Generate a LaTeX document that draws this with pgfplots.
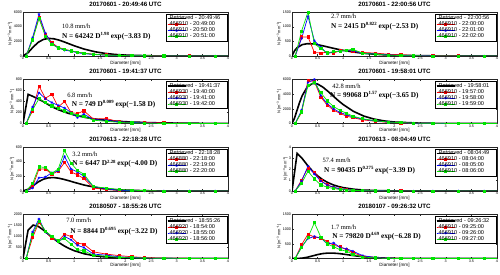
\documentclass[border=0pt]{standalone}
\usepackage{pgfplots}
\pgfplotsset{compat=1.18}
\usepackage{pgfplotstable}
\usepgfplotslibrary{groupplots}
\usepackage{fontspec}
\setmainfont{Liberation Sans}
\newfontfamily\serifnum{Liberation Serif}
\definecolor{mred}{rgb}{1,0,0}
\definecolor{mblue}{rgb}{0,0,1}
\definecolor{mgreen}{rgb}{0,0.9,0}
\newcommand\sups[1]{\raisebox{0.4em}{\fontsize{4.8}{5}\selectfont #1}}
\newcommand\ssups[1]{\raisebox{0.4em}{\fontsize{2.9}{3}\selectfont #1}}
\newcommand\LE[1]{\addlegendentry{#1\hspace*{5pt}}}

% ---- measured (disdrometer) data: D, red, blue, green
\pgfplotstableread{
D r b g
0.062 0 0 0
0.187 2300 2500 2200
0.312 5300 5700 5100
0.437 3000 3100 2700
0.562 1800 1700 1600
0.687 1200 1100 1100
0.812 900 800 900
0.937 700 650 700
1.062 500 450 550
1.187 400 320 380
1.375 250 200 230
1.625 150 120 130
1.875 80 60 70
2.125 50 30 40
2.375 30 20 25
2.75 20 10 12
3.25 10 5 5
3.75 0 0 0
4.25 0 0 0
}\tA
\pgfplotstableread{
D r b g
0.062 0 0 0
0.187 650 600 850
0.312 650 1350 1500
0.437 120 520 420
0.562 100 300 250
0.687 130 80 110
0.812 100 140 150
0.937 180 170 160
1.062 200 180 200
1.187 150 180 230
1.375 120 90 90
1.625 100 70 60
1.875 60 40 30
2.125 40 20 15
2.375 20 10 8
2.75 10 5 0
3.25 5 0 0
3.75 0 0 0
4.25 0 0 0
}\tB
\pgfplotstableread{
D r b g
0.062 0 0 0
0.187 230 300 250
0.312 680 560 450
0.437 460 450 380
0.562 530 380 320
0.687 300 330 280
0.812 400 280 230
0.937 200 200 190
1.062 180 110 150
1.187 230 170 130
1.375 80 70 60
1.625 90 60 40
1.875 30 30 20
2.125 20 20 10
2.375 20 10 5
2.75 10 5 0
3.25 0 0 0
3.75 0 0 0
4.25 0 0 0
}\tC
\pgfplotstableread{
D r b g
0.062 0 0 0
0.187 1500 1800 1600
0.312 5900 5600 5200
0.437 5700 6000 5600
0.562 3600 3800 4200
0.687 2500 2700 3100
0.812 1800 2000 2300
0.937 1400 1500 1800
1.062 1000 1200 1400
1.187 800 900 1000
1.375 500 600 650
1.625 300 350 380
1.875 150 200 200
2.125 80 100 110
2.375 40 50 60
2.75 10 20 20
3.25 0 0 5
3.75 0 0 0
4.25 0 0 0
}\tD
\pgfplotstableread{
D r b g
0.062 0 0 0
0.187 60 40 100
0.312 300 180 330
0.437 300 190 320
0.562 230 250 240
0.687 270 270 300
0.812 390 470 550
0.937 260 300 380
1.062 220 260 280
1.187 170 200 230
1.375 40 60 60
1.625 20 30 40
1.875 10 10 20
2.125 5 5 10
2.375 5 0 5
2.75 0 0 0
3.25 0 0 0
3.75 0 0 0
4.25 0 0 0
}\tE
\pgfplotstableread{
D r b g
0.062 0 0 0
0.187 10000 9000 7000
0.312 21000 22500 18000
0.437 17000 15500 11000
0.562 9500 9000 5500
0.687 5500 5500 3500
0.812 3000 3500 2200
0.937 2000 2000 1400
1.062 1200 1200 900
1.187 800 800 600
1.375 400 400 300
1.625 200 200 150
1.875 100 100 80
2.125 50 50 40
2.375 20 20 20
2.75 10 10 0
3.25 0 0 0
3.75 0 0 0
4.25 0 0 0
}\tF
\pgfplotstableread{
D r b g
0.062 0 0 0
0.187 950 1200 1100
0.312 1650 1800 1700
0.437 1250 1200 1250
0.562 900 1000 1000
0.687 800 750 800
0.812 1100 1000 900
0.937 1000 850 650
1.062 700 600 400
1.187 650 500 350
1.375 300 200 150
1.625 200 150 100
1.875 130 80 50
2.125 80 40 30
2.375 40 20 20
2.75 20 10 10
3.25 5 0 0
3.75 0 0 0
4.25 0 0 0
}\tG
\pgfplotstableread{
D r b g
0.062 0 0 0
0.187 470 400 370
0.312 830 680 720
0.437 730 750 1220
0.562 700 700 730
0.687 580 500 500
0.812 450 530 400
0.937 400 380 300
1.062 300 330 250
1.187 200 250 140
1.375 80 100 50
1.625 30 30 20
1.875 10 10 5
2.125 5 0 0
2.375 0 0 0
2.75 0 0 0
3.25 0 0 0
3.75 0 0 0
4.25 0 0 0
}\tH

% ---- retrieved gamma DSDs (values read at sample diameters)
\pgfplotstableread{
D N
0 0
0.1 459
0.2 1234
0.3 1877
0.4 2264
0.5 2400
0.6 2348
0.7 2172
0.8 1929
0.9 1660
1.0 1394
1.2 930
1.4 587
1.6 356
1.8 209
2.0 119
2.5 27
3.0 6
3.5 1
4.0 0
}\kA
\pgfplotstableread{
D N
0 0
0.05 181
0.1 283
0.2 388
0.3 420
0.4 413
0.5 386
0.6 348
0.7 307
0.8 266
0.9 227
1.0 192
1.2 135
1.4 92
1.6 62
1.8 41
2.0 27
2.5 9
3.0 3
3.5 1
4.0 0
}\kB
\pgfplotstableread{
D N
0 0
0.1 530
0.2 490
0.3 445
0.4 396
0.5 340
0.6 289
0.7 247
0.8 212
0.9 181
1.0 154
1.2 113
1.4 82
1.6 60
1.8 44
2.0 32
2.5 14
3.0 7
3.5 3
4.0 1
}\kC
\pgfplotstableread{
D N
0 0
0.05 748
0.1 1851
0.15 2914
0.2 3815
0.3 5006
0.4 5459
0.5 5380
0.6 4972
0.7 4396
0.8 3764
0.9 3143
1.0 2575
1.2 1651
1.4 1014
1.6 603
1.8 349
2.0 199
2.5 46
3.0 10
3.5 2
4.0 0
}\kD
\pgfplotstableread{
D N
0 0
0.1 23
0.2 74
0.3 125
0.4 161
0.5 180
0.6 183
0.7 174
0.8 158
0.9 139
1.0 118
1.2 80
1.4 51
1.6 31
1.8 18
2.0 11
2.5 2
3.0 0
4.0 0
}\kE
\pgfplotstableread{
D N
0 0
0.1 34210
0.2 29490
0.3 23490
0.4 18110
0.5 13720
0.6 10280
0.7 7640
0.8 5647
0.9 4156
1.0 3048
1.2 1627
1.4 862
1.6 454
1.8 238
2.0 124
2.5 24
3.0 5
3.5 1
4.0 0
}\kF
\pgfplotstableread{
D N
0 0
0.1 1293
0.2 1517
0.3 1457
0.4 1290
0.5 1092
0.6 898
0.7 724
0.8 576
0.9 453
1.0 354
1.2 211
1.4 123
1.6 71
1.8 40
2.0 23
2.5 5
3.0 1
4.0 0
}\kG
\pgfplotstableread{
D N
0 0
0.1 1
0.2 12
0.3 43
0.4 88
0.5 134
0.6 168
0.7 185
0.8 184
0.9 171
1.0 150
1.1 125
1.2 100
1.3 78
1.4 59
1.5 43
1.6 31
1.8 16
2.0 7
2.5 1
3.0 0
4.0 0
}\kH

\pgfplotsset{
  retr/.style={black, line width=1.6pt, no marks},
  sr/.style={mred, line width=0.7pt, mark=square*, mark size=1.1pt},
  sb/.style={mblue, line width=0.7pt, mark=asterisk, mark size=1.4pt, mark options={line width=0.4pt}},
  sg/.style={mgreen, line width=0.7pt, mark=square*, mark size=1.1pt},
}
\tikzset{
  rate/.style={anchor=west, font=\serifnum\fontsize{6.5}{7}\selectfont, inner sep=0pt},
  form/.style={anchor=west, font=\serifnum\bfseries\fontsize{7.3}{8}\selectfont, inner sep=0pt},
}

\begin{document}
\begin{tikzpicture}
\begin{groupplot}[
  group style={group size=2 by 4, horizontal sep=64pt, vertical sep=23.5pt, group name=G},
  width=205pt, height=44pt, scale only axis,
  xmin=0, xmax=4, ymin=0,
  xtick={0,0.5,...,4},
  tick align=inside, major tick length=1.5pt,
  tick style={line width=0.3pt, color=black!85},
  axis line style={line width=0.3pt, black!85},
  ticklabel style={font=\fontsize{3.7}{4}\selectfont, inner sep=0.8pt},
  /pgf/number format/assume math mode=true,
  /pgf/number format/1000 sep={},
  scaled y ticks=false,
  xlabel={Diameter [mm]},
  ylabel={N [m\ssups{−3} mm\ssups{−1}]},
  xlabel style={font=\fontsize{4.6}{5}\selectfont, inner sep=0.5pt},
  ylabel style={font=\fontsize{4}{5}\selectfont, inner sep=0.5pt},
  title style={font=\bfseries\fontsize{6.2}{7}\selectfont, inner sep=1pt, yshift=-1.5pt},
  legend style={at={(0.995,0.955)}, anchor=north east, font=\fontsize{5.6}{6}\selectfont,
    draw=black, line width=0.3pt, inner sep=0.8pt, row sep=-0.8pt, nodes={inner sep=0.7pt}},
  legend cell align=left,
  legend image code/.code={%
    \draw[overlay,mark repeat=2,mark phase=2,#1] plot coordinates {(0pt,0pt) (9pt,0pt) (18pt,0pt)};%
    \path (0pt,0pt) -- (0.5pt,0pt);},
]
% 1
\nextgroupplot[title={20170601 - 20:49:46 UTC}, ymax=6000, ytick={0,2000,4000,6000}]
\addplot[retr] table[x=D,y=N] {\kA}; \LE{Retrieved - 20:49:46}
\addplot[sr] table[x=D,y=r] {\tA}; \LE{466910 - 20:49:00}
\addplot[sb] table[x=D,y=b] {\tA}; \LE{466910 - 20:50:00}
\addplot[sg] table[x=D,y=g] {\tA}; \LE{466910 - 20:51:00}
\node[rate] at (rel axis cs:0.19,0.67) {10.8 mm/h};
\node[form] at (rel axis cs:0.19,0.45) {N = 64242 D\sups{1.98} exp(−3.83 D)};
% 2
\nextgroupplot[title={20170601 - 22:00:56 UTC}, ymax=1500, ytick={0,500,1000,1500}]
\addplot[retr] table[x=D,y=N] {\kB}; \LE{Retrieved - 22:00:56}
\addplot[sr] table[x=D,y=r] {\tB}; \LE{466910 - 22:00:00}
\addplot[sb] table[x=D,y=b] {\tB}; \LE{466910 - 22:01:00}
\addplot[sg] table[x=D,y=g] {\tB}; \LE{466910 - 22:02:00}
\node[rate] at (rel axis cs:0.19,0.9) {2.7 mm/h};
\node[form] at (rel axis cs:0.19,0.67) {N = 2415 D\sups{0.822} exp(−2.53 D)};
% 3
\nextgroupplot[title={20170601 - 19:41:37 UTC}, ymax=800, ytick={0,200,400,600,800}]
\addplot[retr] table[x=D,y=N] {\kC}; \LE{Retrieved - 19:41:37}
\addplot[sr] table[x=D,y=r] {\tC}; \LE{466930 - 19:40:00}
\addplot[sb] table[x=D,y=b] {\tC}; \LE{466930 - 19:41:00}
\addplot[sg] table[x=D,y=g] {\tC}; \LE{466930 - 19:42:00}
\node[rate] at (rel axis cs:0.215,0.64) {6.8 mm/h};
\node[form] at (rel axis cs:0.237,0.43) {N = 749 D\sups{0.009} exp(−1.58 D)};
% 4
\nextgroupplot[title={20170601 - 19:58:01 UTC}, ymax=6000, ytick={0,2000,4000,6000}]
\addplot[retr] table[x=D,y=N] {\kD}; \LE{Retrieved - 19:58:01}
\addplot[sr] table[x=D,y=r] {\tD}; \LE{466910 - 19:57:00}
\addplot[sb] table[x=D,y=b] {\tD}; \LE{466910 - 19:58:00}
\addplot[sg] table[x=D,y=g] {\tD}; \LE{466910 - 19:59:00}
\node[rate] at (rel axis cs:0.196,0.84) {42.8 mm/h};
\node[form] at (rel axis cs:0.185,0.64) {N = 99068 D\sups{1.57} exp(−3.65 D)};
% 5
\nextgroupplot[title={20170613 - 22:18:28 UTC}, ymax=600, ytick={0,200,400,600}]
\addplot[retr] table[x=D,y=N] {\kE}; \LE{Retrieved - 22:18:28}
\addplot[sr] table[x=D,y=r] {\tE}; \LE{466880 - 22:18:00}
\addplot[sb] table[x=D,y=b] {\tE}; \LE{466880 - 22:19:00}
\addplot[sg] table[x=D,y=g] {\tE}; \LE{466880 - 22:20:00}
\node[rate] at (rel axis cs:0.24,0.83) {3.2 mm/h};
\node[form] at (rel axis cs:0.24,0.62) {N = 6447 D\sups{2.28} exp(−4.00 D)};
% 6
\nextgroupplot[title={20170613 - 08:04:49 UTC}, ymax=40000, ytick={0,10000,20000,30000,40000}, yticklabels={0,1,2,3,4}]
\addplot[retr] table[x=D,y=N] {\kF}; \LE{Retrieved - 08:04:49}
\addplot[sr] table[x=D,y=r] {\tF}; \LE{466910 - 08:04:00}
\addplot[sb] table[x=D,y=b] {\tF}; \LE{466910 - 08:05:00}
\addplot[sg] table[x=D,y=g] {\tF}; \LE{466910 - 08:06:00}
\node[rate] at (rel axis cs:0.148,0.70) {57.4 mm/h};
\node[form] at (rel axis cs:0.156,0.47) {N = 90435 D\sups{0.275} exp(−3.39 D)};
\node[anchor=south west, inner sep=0.5pt, font=\fontsize{3.7}{4}\selectfont] at (rel axis cs:0,1) {×10\ssups{4}};
% 7
\nextgroupplot[title={20180507 - 18:55:26 UTC}, ymax=2000, ytick={0,500,1000,1500,2000}]
\addplot[retr] table[x=D,y=N] {\kG}; \LE{Retrieved - 18:55:26}
\addplot[sr] table[x=D,y=r] {\tG}; \LE{466920 - 18:54:00}
\addplot[sb] table[x=D,y=b] {\tG}; \LE{466920 - 18:55:00}
\addplot[sg] table[x=D,y=g] {\tG}; \LE{466920 - 18:56:00}
\node[rate] at (rel axis cs:0.21,0.86) {7.0 mm/h};
\node[form] at (rel axis cs:0.23,0.62) {N = 8844 D\sups{0.695} exp(−3.22 D)};
% 8
\nextgroupplot[title={20180107 - 09:26:32 UTC}, ymax=1500, ytick={0,500,1000,1500}]
\addplot[retr] table[x=D,y=N] {\kH}; \LE{Retrieved - 09:26:32}
\addplot[sr] table[x=D,y=r] {\tH}; \LE{466910 - 09:25:00}
\addplot[sb] table[x=D,y=b] {\tH}; \LE{466910 - 09:26:00}
\addplot[sg] table[x=D,y=g] {\tH}; \LE{466910 - 09:27:00}
\node[rate] at (rel axis cs:0.19,0.72) {1.7 mm/h};
\node[form] at (rel axis cs:0.196,0.51) {N = 79820 D\sups{4.69} exp(−6.28 D)};
\end{groupplot}
\pgfresetboundingbox
\path ([xshift=-23pt,yshift=12pt]G c1r1.north west) rectangle ([xshift=3pt,yshift=-16.5pt]G c2r4.south east);
\end{tikzpicture}
\end{document}
